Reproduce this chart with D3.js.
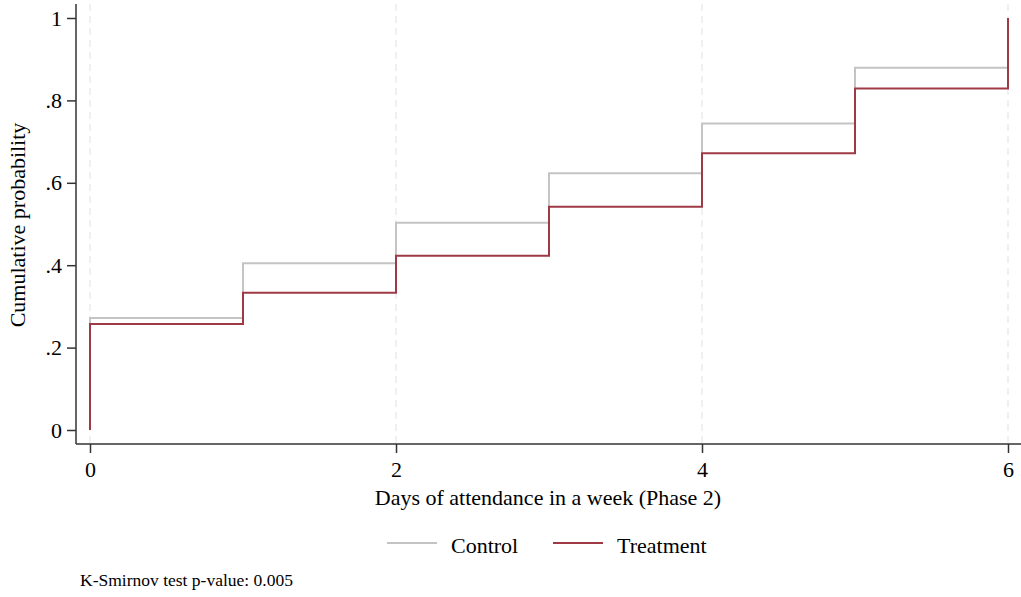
<!DOCTYPE html>
<html>
<head>
<meta charset="utf-8">
<script src="https://cdn.jsdelivr.net/npm/d3@7"></script>
<style>
  html, body { margin: 0; padding: 0; background: #fff; }
  svg text { font-family: "Liberation Serif", "DejaVu Serif", serif; fill: #000; }
</style>
</head>
<body>
<svg id="chart" width="1021" height="597"></svg>
<script>
// Days of attendance (x) and empirical cumulative probabilities per group
const days = [0, 1, 2, 3, 4, 5, 6];
const controlCdf = [0.272, 0.405, 0.503, 0.623, 0.744, 0.879, 1.0];
const treatmentCdf = [0.257, 0.333, 0.423, 0.542, 0.672, 0.829, 1.0];
const xTicks = [0, 2, 4, 6];
const xTickLabels = ["0", "2", "4", "6"];
const yTicks = [0, 0.2, 0.4, 0.6, 0.8, 1];
const yTickLabels = ["0", ".2", ".4", ".6", ".8", "1"];
const seriesNames = ["Control", "Treatment"];
const seriesColors = ["#c4c4c4", "#9e3a45"];
const note = "K-Smirnov test p-value: 0.005";

const svg = d3.select("#chart");
const x = d3.scaleLinear().domain([0, 6]).range([90, 1008]);
const y = d3.scaleLinear().domain([0, 1]).range([430, 18]);
const axisY = 444, axisX = 76;

// dashed vertical gridlines
svg.append("g").selectAll("line").data(xTicks).join("line")
  .attr("x1", d => x(d)).attr("x2", d => x(d))
  .attr("y1", 4).attr("y2", axisY)
  .attr("stroke", "#ebebeb").attr("stroke-width", 1.5)
  .attr("stroke-dasharray", "7,5");

// step path: start at 0 at the first day, then jump and hold
function stepPoints(vals) {
  const pts = [[days[0], 0]];
  vals.forEach((v, i) => {
    pts.push([days[i], v]);
    if (i < vals.length - 1) pts.push([days[i + 1], v]);
  });
  return pts;
}
const line = d3.line().x(d => x(d[0])).y(d => y(d[1]));

[controlCdf, treatmentCdf].forEach((vals, i) => {
  svg.append("path")
    .attr("d", line(stepPoints(vals)))
    .attr("fill", "none")
    .attr("stroke", seriesColors[i])
    .attr("stroke-width", 2);
});

// y axis
const yAxis = d3.axisLeft(y).tickValues(yTicks)
  .tickFormat((d, i) => yTickLabels[i]).tickSize(9).tickPadding(5);
const gy = svg.append("g").attr("transform", `translate(${axisX},0)`).call(yAxis);
gy.select(".domain").remove();
gy.append("line").attr("x1", 0).attr("x2", 0).attr("y1", 4).attr("y2", axisY)
  .attr("stroke", "#333").attr("stroke-width", 1.5);
gy.selectAll(".tick line").attr("stroke", "#333").attr("stroke-width", 1.5);
gy.selectAll(".tick text").style("font-size", "22px").attr("fill", "#000");

// x axis
const xAxis = d3.axisBottom(x).tickValues(xTicks)
  .tickFormat((d, i) => xTickLabels[i]).tickSize(9).tickPadding(8);
const gx = svg.append("g").attr("transform", `translate(0,${axisY})`).call(xAxis);
gx.select(".domain").remove();
gx.append("line").attr("x1", axisX).attr("x2", 1021).attr("y1", 0).attr("y2", 0)
  .attr("stroke", "#333").attr("stroke-width", 1.5);
gx.selectAll(".tick line").attr("stroke", "#333").attr("stroke-width", 1.5);
gx.selectAll(".tick text").style("font-size", "22px").attr("fill", "#000");

// axis titles
svg.append("text")
  .attr("x", 548).attr("y", 505)
  .attr("text-anchor", "middle").style("font-size", "22px")
  .text("Days of attendance in a week (Phase 2)");
svg.append("text")
  .attr("transform", "translate(25,225) rotate(-90)")
  .attr("text-anchor", "middle").style("font-size", "22px")
  .text("Cumulative probability");

// legend
const legendX = [387, 553];
seriesNames.forEach((name, i) => {
  svg.append("line")
    .attr("x1", legendX[i]).attr("x2", legendX[i] + 50)
    .attr("y1", 543).attr("y2", 543)
    .attr("stroke", seriesColors[i]).attr("stroke-width", 2);
  svg.append("text")
    .attr("x", legendX[i] + 64).attr("y", 553)
    .style("font-size", "22px").text(name);
});

// footnote
svg.append("text")
  .attr("x", 80).attr("y", 586)
  .style("font-size", "17.5px").text(note);
</script>
</body>
</html>
